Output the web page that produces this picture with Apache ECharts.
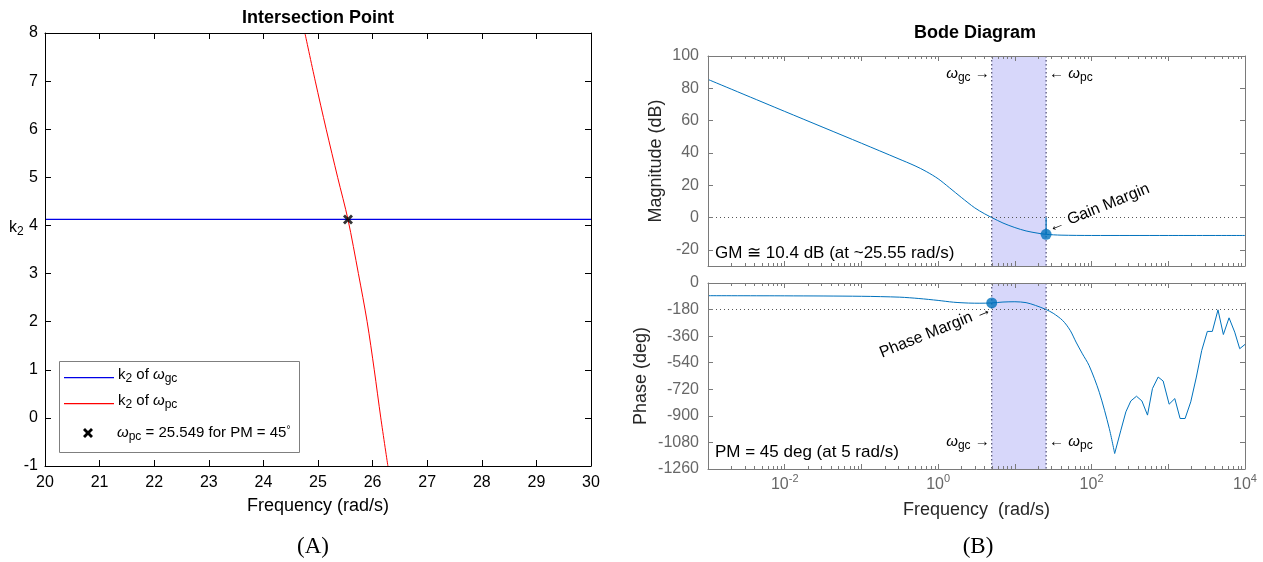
<!DOCTYPE html>
<html>
<head>
<meta charset="utf-8">
<title>Intersection Point and Bode Diagram</title>
<script src="https://cdn.jsdelivr.net/npm/echarts@6.0.0/dist/echarts.min.js"></script>
<style>
  html, body { margin: 0; padding: 0; background: #ffffff; }
  #chart { width: 1263px; height: 562px; }
</style>
</head>
<body>
<div id="chart"></div>
<script>
// ---------- Panel (A): k2 for the gain- and phase-crossover conditions ----------
const gcFreq = [20, 30];
const gcK2 = [4.125, 4.125];
const pcFreq = [24.76, 24.95, 25.15, 25.36, 25.549, 25.74, 25.90, 26.03, 26.15, 26.28];
const pcK2 = [8, 7, 6, 5, 4.125, 3, 2, 1, 0, -1];
const crossFreq = 25.549;
const crossK2 = 4.125;
const pmTarget = 45;

// ---------- Panel (B): Bode diagram ----------
const magFreq = [0.001, 0.01, 0.1, 0.3, 0.5, 0.7, 1, 1.4, 2, 3, 4, 5, 7, 10, 14, 20, 25.55, 40, 100, 1000, 10000];
const magDb = [85.5, 65.7, 46, 36.5, 32, 28.5, 24, 18.5, 12.5, 6, 2.4, 0, -3.4, -6.2, -8.3, -9.7, -10.4, -10.9, -11.1, -11.1, -11.1];

const phaseFreqLow = [0.001, 0.01, 0.1, 0.316, 0.56, 1, 1.58, 2.5, 3.5, 5, 7, 10, 14, 18.6, 25.55, 31.6, 42, 52.5, 62.7, 76, 93, 126, 170, 200];
const phaseDegLow = [-86, -87, -90, -96, -105, -118, -130, -136, -137, -135, -129, -127, -133, -152, -180, -205, -254, -320, -400, -480, -560, -740, -985, -1155];
const phaseFreqHigh = [200, 241, 280, 325, 385, 453, 536, 622, 738, 857, 1026, 1216, 1426, 1656, 1963, 2323, 2729, 3228, 3750, 4446, 5224, 6194, 7345, 8531, 10000];
const phaseDegHigh = [-1155, -997, -873, -799, -767, -799, -895, -715, -637, -664, -821, -783, -918, -918, -805, -637, -457, -328, -328, -182, -349, -236, -333, -445, -416];

const wgc = 5;          // gain crossover frequency (rad/s)
const wpc = 25.55;      // phase crossover frequency (rad/s)
const gainMarginDb = 10.4;
const phaseAtGc = -135;
const magTickValues = [-20, 0, 20, 40, 60, 80, 100];

// ---------- styling ----------
const FONT = '"Liberation Sans", Arial, Helvetica, sans-serif';
const SERIF = '"Liberation Serif", "Times New Roman", serif';
const GRAY_AXIS = '#7a7a7a';
const GRAY_TEXT = '#676767';
const BODE_BLUE = '#0072bd';
const GC_BLUE = '#0000e6';
const PC_RED = '#ff0000';
const X_MARK = 'path://M0,2 L2,0 L5,3 L8,0 L10,2 L7,5 L10,8 L8,10 L5,7 L2,10 L0,8 L3,5 Z';

const zip = (xs, ys) => xs.map((x, i) => [x, ys[i]]);

// minor ticks of the logarithmic frequency axis (2..9 in every decade)
const minorFreqTicks = [];
for (let e = -3; e < 4; e++) {
  for (let k = 2; k <= 9; k++) minorFreqTicks.push([k * Math.pow(10, e), 0]);
}

const richBase = {
  b: { fontFamily: FONT, fontSize: 15, color: '#000', lineHeight: 18, verticalAlign: 'top' },
  w: { fontFamily: FONT, fontSize: 15, fontStyle: 'italic', color: '#222', lineHeight: 18, verticalAlign: 'top' },
  s: { fontFamily: FONT, fontSize: 12, color: '#000', lineHeight: 12, padding: [10, 0, 0, 0], verticalAlign: 'bottom' },
  u: { fontFamily: FONT, fontSize: 10, color: '#000', lineHeight: 10, verticalAlign: 'top' }
};

function blackValueAxis(extra) {
  return Object.assign({
    type: 'value',
    axisLine: { show: true, onZero: false, lineStyle: { color: '#000', width: 1 } },
    axisTick: { show: true, inside: true, length: 6, lineStyle: { color: '#000' } },
    axisLabel: { show: true, color: '#000', fontFamily: FONT, fontSize: 16 },
    splitLine: { show: false },
    z: 5
  }, extra);
}

function logFreqAxis(gridIndex, position, withLabels) {
  const ax = {
    type: 'log', logBase: 10, min: 0.001, max: 10000, interval: 1,
    gridIndex, position,
    axisLine: { show: true, onZero: false, lineStyle: { color: GRAY_AXIS, width: 1 } },
    axisTick: { show: true, inside: true, length: 5, lineStyle: { color: GRAY_AXIS } },
    axisLabel: { show: false },
    splitLine: { show: false },
    z: 5
  };
  if (withLabels) {
    ax.axisLabel = {
      show: true, margin: 8,
      formatter: (v) => {
        const e = Math.round(Math.log10(v));
        return e % 2 === 0 ? '{m|10}{e|' + e + '}' : '';
      },
      rich: {
        m: { fontFamily: FONT, fontSize: 16, color: GRAY_TEXT, lineHeight: 16, verticalAlign: 'bottom' },
        e: { fontFamily: FONT, fontSize: 11, color: GRAY_TEXT, lineHeight: 11, padding: [0, 0, 9, 0], verticalAlign: 'bottom' }
      }
    };
    ax.name = 'Frequency  (rad/s)';
    ax.nameLocation = 'middle';
    ax.nameGap = 32;
    ax.nameTextStyle = { fontFamily: FONT, fontSize: 18, color: '#262626' };
  }
  return ax;
}

function grayValueAxis(extra) {
  return Object.assign({
    type: 'value',
    axisLine: { show: true, onZero: false, lineStyle: { color: GRAY_AXIS, width: 1 } },
    axisTick: { show: true, inside: true, length: 5, lineStyle: { color: GRAY_AXIS } },
    axisLabel: { show: true, color: GRAY_TEXT, fontFamily: FONT, fontSize: 16, margin: 9, formatter: (v) => String(v) },
    splitLine: { show: false },
    nameTextStyle: { fontFamily: FONT, fontSize: 18, color: '#262626' },
    z: 5
  }, extra);
}

// shaded interval between the two crossover frequencies, with dotted edges
function bandItem(params, api) {
  const cs = params.coordSys;
  const xa = api.coord([api.value(0), 0])[0];
  const xb = api.coord([api.value(1), 0])[0];
  const edge = { stroke: '#2b2b55', lineWidth: 1, lineDash: [1.5, 2.5] };
  return {
    type: 'group',
    children: [
      { type: 'rect', shape: { x: xa, y: cs.y, width: xb - xa, height: cs.height }, style: { fill: '#d7d7fa' } },
      { type: 'line', shape: { x1: xa, y1: cs.y, x2: xa, y2: cs.y + cs.height }, style: edge },
      { type: 'line', shape: { x1: xb, y1: cs.y, x2: xb, y2: cs.y + cs.height }, style: edge }
    ]
  };
}

function minorTickItem(params, api) {
  const cs = params.coordSys;
  const x = Math.round(api.coord([api.value(0), 0])[0]) + 0.5;
  const st = { stroke: GRAY_AXIS, lineWidth: 1 };
  return {
    type: 'group',
    children: [
      { type: 'line', shape: { x1: x, y1: cs.y, x2: x, y2: cs.y + 3 }, style: st },
      { type: 'line', shape: { x1: x, y1: cs.y + cs.height, x2: x, y2: cs.y + cs.height - 3 }, style: st }
    ]
  };
}

const dottedH = { type: [1, 3], color: '#555', width: 1 };

const option = {
  animation: false,
  backgroundColor: '#ffffff',
  grid: [
    { left: 45, top: 33, width: 546, height: 433 },
    { left: 708, top: 56, width: 537, height: 210 },
    { left: 708, top: 283, width: 537, height: 186 }
  ],
  xAxis: [
    blackValueAxis({ gridIndex: 0, position: 'bottom', min: 20, max: 30, interval: 1,
      axisLabel: { show: true, color: '#000', fontFamily: FONT, fontSize: 16, margin: 9 },
      name: 'Frequency (rad/s)', nameLocation: 'middle', nameGap: 31,
      nameTextStyle: { fontFamily: FONT, fontSize: 18, color: '#000' } }),
    blackValueAxis({ gridIndex: 0, position: 'top', min: 20, max: 30, interval: 1, axisLabel: { show: false } }),
    logFreqAxis(1, 'bottom', false),
    logFreqAxis(1, 'top', false),
    logFreqAxis(2, 'bottom', true),
    logFreqAxis(2, 'top', false)
  ],
  yAxis: [
    blackValueAxis({ gridIndex: 0, position: 'left', min: -1, max: 8, interval: 1,
      axisLabel: { show: true, color: '#000', fontFamily: FONT, fontSize: 16, margin: 7 } }),
    blackValueAxis({ gridIndex: 0, position: 'right', min: -1, max: 8, interval: 1, axisLabel: { show: false } }),
    grayValueAxis({ gridIndex: 1, position: 'left', min: -30, max: 100,
      axisLabel: { show: true, color: GRAY_TEXT, fontFamily: FONT, fontSize: 16, margin: 9, customValues: magTickValues },
      axisTick: { show: true, inside: true, length: 5, lineStyle: { color: GRAY_AXIS }, customValues: magTickValues },
      name: 'Magnitude (dB)', nameLocation: 'middle', nameGap: 43 }),
    grayValueAxis({ gridIndex: 1, position: 'right', min: -30, max: 100, axisLabel: { show: false },
      axisTick: { show: true, inside: true, length: 5, lineStyle: { color: GRAY_AXIS }, customValues: magTickValues } }),
    grayValueAxis({ gridIndex: 2, position: 'left', min: -1260, max: 0, interval: 180,
      name: 'Phase (deg)', nameLocation: 'middle', nameGap: 58 }),
    grayValueAxis({ gridIndex: 2, position: 'right', min: -1260, max: 0, interval: 180, axisLabel: { show: false } })
  ],
  series: [
    // (A)
    { name: 'k2 of wgc', type: 'line', xAxisIndex: 0, yAxisIndex: 0, data: zip(gcFreq, gcK2),
      showSymbol: false, lineStyle: { color: GC_BLUE, width: 1.2 }, z: 3 },
    { name: 'k2 of wpc', type: 'line', xAxisIndex: 0, yAxisIndex: 0, data: zip(pcFreq, pcK2),
      smooth: 0.3, showSymbol: false, lineStyle: { color: PC_RED, width: 1 }, z: 3 },
    { name: 'crossing', type: 'scatter', xAxisIndex: 0, yAxisIndex: 0, data: [[crossFreq, crossK2]],
      symbol: X_MARK, symbolSize: 10, itemStyle: { color: '#000' }, z: 4 },

    // (B) magnitude
    { type: 'custom', xAxisIndex: 2, yAxisIndex: 2, data: [[wgc, wpc]], renderItem: bandItem, silent: true, z: 1 },
    { type: 'custom', xAxisIndex: 2, yAxisIndex: 2, data: minorFreqTicks, renderItem: minorTickItem, silent: true, z: 6 },
    { name: 'Magnitude', type: 'line', xAxisIndex: 2, yAxisIndex: 2, data: zip(magFreq, magDb),
      smooth: 0.3, showSymbol: false, lineStyle: { color: BODE_BLUE, width: 1 }, z: 3,
      markLine: { silent: true, symbol: ['none', 'none'], label: { show: false }, lineStyle: dottedH,
        data: [{ yAxis: 0 }] } },
    { type: 'line', xAxisIndex: 2, yAxisIndex: 2, data: [[wpc, 0], [wpc, -gainMarginDb]],
      showSymbol: false, lineStyle: { color: BODE_BLUE, width: 1.2 }, z: 3 },
    { type: 'scatter', xAxisIndex: 2, yAxisIndex: 2, data: [[wpc, -gainMarginDb]],
      symbolSize: 11, itemStyle: { color: BODE_BLUE }, z: 4 },

    // (B) phase
    { type: 'custom', xAxisIndex: 4, yAxisIndex: 4, data: [[wgc, wpc]], renderItem: bandItem, silent: true, z: 1 },
    { type: 'custom', xAxisIndex: 4, yAxisIndex: 4, data: minorFreqTicks, renderItem: minorTickItem, silent: true, z: 6 },
    { name: 'Phase', type: 'line', xAxisIndex: 4, yAxisIndex: 4, data: zip(phaseFreqLow, phaseDegLow),
      smooth: 0.3, showSymbol: false, lineStyle: { color: BODE_BLUE, width: 1 }, z: 3,
      markLine: { silent: true, symbol: ['none', 'none'], label: { show: false }, lineStyle: dottedH,
        data: [{ yAxis: -180 }] } },
    { name: 'Phase (high)', type: 'line', xAxisIndex: 4, yAxisIndex: 4, data: zip(phaseFreqHigh, phaseDegHigh),
      showSymbol: false, lineStyle: { color: BODE_BLUE, width: 1 }, z: 3 },
    { type: 'scatter', xAxisIndex: 4, yAxisIndex: 4, data: [[wgc, phaseAtGc]],
      symbolSize: 11, itemStyle: { color: BODE_BLUE }, z: 4 }
  ]
};

const chart = echarts.init(document.getElementById('chart'), null, { renderer: 'canvas', width: 1263, height: 562 });
chart.setOption(option);

// ---------- titles, legend and annotations ----------
const px = (xi, yi, v) => chart.convertToPixel({ xAxisIndex: xi, yAxisIndex: yi }, v);
const gmPt = px(2, 2, [wpc, -gainMarginDb]);
const pmPt = px(4, 4, [wgc, phaseAtGc]);
const xGcMag = px(2, 2, [wgc, 0])[0];
const xPcMag = px(2, 2, [wpc, 0])[0];
const magTop = px(2, 2, [wgc, 100])[1];
const magBottom = px(2, 2, [wgc, -30])[1];
const phBottom = px(4, 4, [wgc, -1260])[1];
const deg = Math.PI / 180;

function txt(x, y, text, opts) {
  return {
    type: 'text', x, y, z: 20, silent: true,
    style: Object.assign({ text, fontFamily: FONT, fontSize: 15, fill: '#000', align: 'left', verticalAlign: 'middle' }, opts || {})
  };
}

const graphic = [
  txt(318, 18, 'Intersection Point', { fontWeight: 'bold', fontSize: 18, align: 'center' }),
  txt(975, 33, 'Bode Diagram', { fontWeight: 'bold', fontSize: 18, align: 'center' }),
  txt(313, 547, '(A)', { fontFamily: SERIF, fontSize: 23, align: 'center' }),
  txt(978, 547, '(B)', { fontFamily: SERIF, fontSize: 23, align: 'center' }),

  // y-axis name of panel (A)
  txt(9, 220, '{b|k}{s|2}', { verticalAlign: 'top', rich: {
    b: Object.assign({}, richBase.b, { fontSize: 16 }), s: richBase.s } }),

  // legend of panel (A)
  { type: 'rect', z: 20, silent: true, shape: { x: 59.5, y: 361.5, width: 240, height: 91 },
    style: { fill: '#fff', stroke: '#7f7f7f', lineWidth: 1 } },
  { type: 'rect', z: 22, silent: true, shape: { x: 64, y: 377, width: 50, height: 1.2 }, style: { fill: GC_BLUE } },
  { type: 'rect', z: 22, silent: true, shape: { x: 64, y: 403, width: 50, height: 1.2 }, style: { fill: PC_RED } },
  { type: 'polygon', z: 22, silent: true, x: 83, y: 428,
    shape: { points: [[0, 2], [2, 0], [5, 3], [8, 0], [10, 2], [7, 5], [10, 8], [8, 10], [5, 7], [2, 10], [0, 8], [3, 5]] },
    style: { fill: '#000' } },
  txt(118, 367, '{b|k}{s|2}{b| of }{w|\u03c9}{s|gc}', { verticalAlign: 'top', rich: richBase }),
  txt(118, 393, '{b|k}{s|2}{b| of }{w|\u03c9}{s|pc}', { verticalAlign: 'top', rich: richBase }),
  txt(117, 425, '{w|\u03c9}{s|pc}{b| = ' + crossFreq + ' for PM = ' + pmTarget + '}{u|\u00b0}', { verticalAlign: 'top', rich: richBase }),

  // crossover markers on the band edges
  txt(xGcMag - 2, magTop + 10, '{w|\u03c9}{s|gc}{b| \u2192}', { align: 'right', verticalAlign: 'top', rich: richBase }),
  txt(xPcMag + 3, magTop + 10, '{b|\u2190 }{w|\u03c9}{s|pc}', { align: 'left', verticalAlign: 'top', rich: richBase }),
  txt(xGcMag - 2, phBottom - 35, '{w|\u03c9}{s|gc}{b| \u2192}', { align: 'right', verticalAlign: 'top', rich: richBase }),
  txt(xPcMag + 3, phBottom - 35, '{b|\u2190 }{w|\u03c9}{s|pc}', { align: 'left', verticalAlign: 'top', rich: richBase }),

  // margins
  txt(715, magBottom - 13, 'GM \u2245 ' + gainMarginDb + ' dB (at ~' + wpc + ' rad/s)', { fontSize: 17 }),
  txt(715, phBottom - 17, 'PM = ' + (180 + phaseAtGc) + ' deg (at ' + wgc + ' rad/s)', { fontSize: 17 }),
  Object.assign(txt(gmPt[0] + 3, gmPt[1] - 6, '\u2190 Gain Margin', { fontSize: 16 }), { rotation: 22 * deg }),
  Object.assign(txt(pmPt[0] - 1, pmPt[1] + 6, 'Phase Margin \u2192', { fontSize: 16, align: 'right' }), { rotation: 22 * deg })
];

chart.setOption({ graphic });
</script>
</body>
</html>
